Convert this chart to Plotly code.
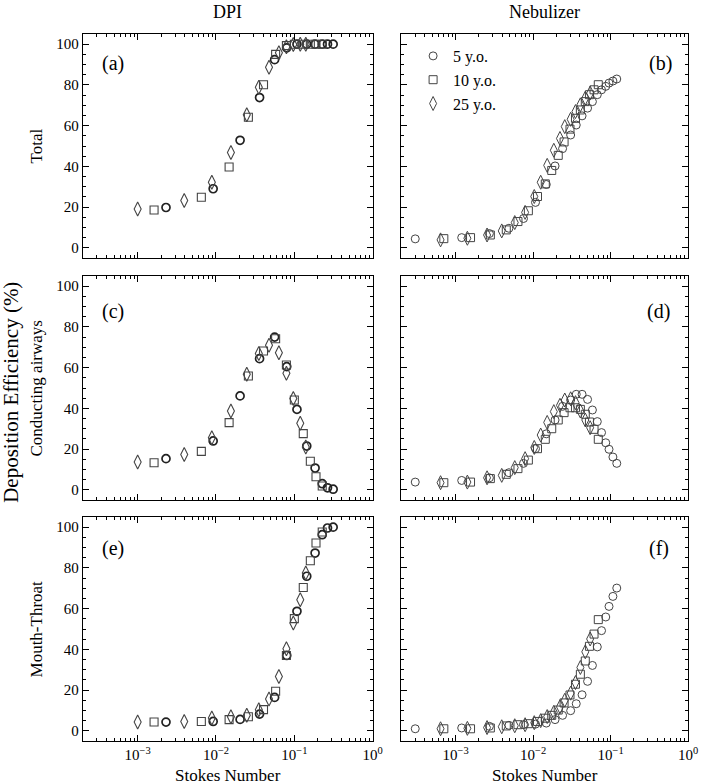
import plotly.graph_objects as go
from plotly.subplots import make_subplots

# ---------------- DATA ----------------
ages = ["5 y.o.", "10 y.o.", "25 y.o."]
col_titles = ["DPI", "Nebulizer"]
row_titles = ["Total", "Conducting airways", "Mouth-Throat"]
panel_labels = ["(a)", "(b)", "(c)", "(d)", "(e)", "(f)"]
x_tick_vals = [1e-3, 1e-2, 1e-1, 1e0]
x_tick_text = ["10<sup>\u22123</sup>", "10<sup>\u22122</sup>", "10<sup>\u22121</sup>", "10<sup>0</sup>"]
y_tick_vals = [0, 20, 40, 60, 80, 100]

# DPI
dpi_st_5 = [2.30e-3, 9.2e-3, 0.0203, 0.036, 0.056, 0.080, 0.108, 0.144, 0.184, 0.227, 0.265, 0.313]
dpi_st_10 = [1.62e-3, 6.5e-3, 0.0147, 0.0259, 0.0404, 0.0577, 0.0792, 0.100, 0.130, 0.160, 0.189, 0.227]
dpi_st_25 = [1.0e-3, 3.93e-3, 8.85e-3, 0.0155, 0.0247, 0.0352, 0.0475, 0.0635, 0.0792, 0.097, 0.119, 0.140]

dpi_total_5 = [19.8, 29.0, 52.8, 73.8, 92.4, 98.2, 100, 100, 100, 100, 100, 100]
dpi_total_10 = [18.6, 24.8, 39.7, 64.1, 80.1, 95.0, 99.3, 100, 100, 100, 100, 100]
dpi_total_25 = [19.1, 23.2, 32.2, 46.8, 65.3, 78.9, 88.7, 95.8, 98.8, 99.8, 100, 100]

dpi_ca_5 = [15.3, 24.0, 46.1, 64.4, 75.0, 60.5, 39.5, 21.5, 10.7, 3.0, 1.0, 0.3]
dpi_ca_10 = [13.3, 18.9, 33.0, 55.9, 68.2, 74.2, 61.3, 44.1, 27.6, 14.0, 6.4, 1.9]
dpi_ca_25 = [13.7, 17.4, 25.6, 38.7, 56.7, 67.0, 71.0, 67.3, 57.2, 44.9, 32.7, 21.0]

dpi_mt_5 = [4.3, 4.6, 5.6, 8.2, 16.4, 37.0, 58.7, 75.9, 87.3, 96.3, 99.6, 100]
dpi_mt_10 = [4.3, 4.6, 5.5, 6.9, 10.4, 19.4, 37.0, 55.1, 70.4, 83.5, 92.2, 97.6]
dpi_mt_25 = [4.3, 4.6, 6.3, 6.9, 7.6, 10.4, 15.6, 26.7, 40.3, 52.9, 64.4, 77.5]

# Nebulizer
neb_st_5 = [3.02e-4, 1.20e-3, 2.73e-3, 4.88e-3, 7.52e-3, 0.01074, 0.0148, 0.0192, 0.0240, 0.0305,
            0.0360, 0.0428, 0.0504, 0.0582, 0.0673, 0.0763, 0.0865, 0.0953, 0.107, 0.120]
neb_total_5 = [4.4, 5.0, 7.0, 9.6, 14.4, 22.3, 31.1, 40.2, 48.7, 55.4,
               60.3, 64.8, 68.6, 71.8, 75.2, 77.6, 79.3, 80.9, 81.9, 82.9]
neb_ca_5 = [3.8, 4.6, 5.9, 8.4, 13.0, 20.2, 27.5, 34.3, 41.0, 44.1,
            46.9, 46.9, 44.4, 39.2, 33.5, 28.1, 23.1, 19.9, 16.1, 13.0]
neb_mt_5 = [1.0, 1.4, 2.2, 2.7, 3.0, 3.3, 3.8, 5.5, 7.6, 9.9,
            13.3, 17.7, 24.3, 32.1, 41.2, 49.2, 55.9, 61.1, 66.0, 70.1]

neb_st_10 = [7.06e-4, 1.56e-3, 2.81e-3, 4.51e-3, 6.38e-3, 8.69e-3, 0.0114, 0.01436, 0.0174,
             0.0211, 0.0251, 0.0299, 0.0352, 0.0407, 0.0471, 0.0533, 0.0611, 0.0693]
neb_total_10 = [4.5, 5.0, 6.3, 8.8, 12.9, 18.2, 25.2, 31.4, 38.0,
                45.4, 52.0, 58.3, 63.6, 67.7, 71.8, 75.2, 77.6, 80.1]
neb_ca_10 = [3.5, 3.8, 5.5, 7.6, 10.4, 14.6, 20.2, 24.8, 30.0,
             34.3, 37.9, 40.3, 40.3, 39.5, 37.1, 33.3, 29.7, 24.8]
neb_mt_10 = [1.0, 1.0, 1.4, 2.4, 3.0, 3.5, 4.6, 6.2, 7.6,
             10.2, 13.7, 17.6, 22.9, 27.8, 34.3, 41.5, 47.5, 54.6]

neb_st_25 = [6.41e-4, 1.42e-3, 2.55e-3, 3.94e-3, 5.80e-3, 7.89e-3, 0.01035, 0.01253, 0.0152,
             0.0185, 0.0222, 0.0256, 0.0305, 0.0352, 0.0407, 0.0471, 0.0544]
neb_total_25 = [3.9, 4.7, 6.3, 8.3, 12.4, 17.4, 25.2, 32.2, 40.5,
                47.9, 53.7, 59.5, 63.1, 66.9, 70.2, 73.5, 76.0]
neb_ca_25 = [3.5, 3.8, 5.9, 7.1, 10.9, 15.3, 20.8, 26.9, 33.1,
             38.4, 41.5, 44.1, 44.7, 42.8, 38.7, 34.3, 30.5]
neb_mt_25 = [1.0, 1.2, 1.6, 2.0, 2.5, 3.0, 4.0, 5.0, 7.0,
             9.1, 11.8, 15.0, 18.5, 23.7, 31.1, 38.8, 45.1]

# ---------------- FIGURE ----------------
W, H = 711, 784
FONT = "Liberation Serif, Times New Roman, serif"

fig = make_subplots(rows=3, cols=2)

symbols = ["circle-open", "square-open", "diamond-tall-open"]
sizes = [8, 8, 10]

dpi_sets = [
    [(dpi_st_5, dpi_total_5), (dpi_st_10, dpi_total_10), (dpi_st_25, dpi_total_25)],
    [(dpi_st_5, dpi_ca_5), (dpi_st_10, dpi_ca_10), (dpi_st_25, dpi_ca_25)],
    [(dpi_st_5, dpi_mt_5), (dpi_st_10, dpi_mt_10), (dpi_st_25, dpi_mt_25)],
]
neb_sets = [
    [(neb_st_5, neb_total_5), (neb_st_10, neb_total_10), (neb_st_25, neb_total_25)],
    [(neb_st_5, neb_ca_5), (neb_st_10, neb_ca_10), (neb_st_25, neb_ca_25)],
    [(neb_st_5, neb_mt_5), (neb_st_10, neb_mt_10), (neb_st_25, neb_mt_25)],
]

for r in range(3):
    for k in range(3):
        xs, ys = dpi_sets[r][k]
        lw = 1.7 if k == 0 else 1.1
        lc = "#222222" if k == 0 else "#444444"
        fig.add_trace(go.Scatter(
            x=xs, y=ys, mode="markers", name=ages[k], showlegend=False,
            marker=dict(symbol=symbols[k], size=sizes[k], color=lc,
                        line=dict(width=lw, color=lc))), row=r + 1, col=1)
    for k in range(3):
        xs, ys = neb_sets[r][k]
        fig.add_trace(go.Scatter(
            x=xs, y=ys, mode="markers", name=ages[k], showlegend=(r == 0),
            marker=dict(symbol=symbols[k], size=sizes[k], color="#444444",
                        line=dict(width=1.0, color="#444444"))), row=r + 1, col=2)

col_dom = [[84 / W, 378 / W], [407 / W, 698 / W]]
row_px = [(34, 258), (276, 500), (517, 741)]
row_dom = [[1 - b / H, 1 - t / H] for t, b in row_px]

axis_common = dict(showline=True, linecolor="black", linewidth=1.3, mirror="ticks",
                   ticks="inside", tickcolor="black", ticklen=6, tickwidth=1,
                   showgrid=False, zeroline=False,
                   tickfont=dict(family=FONT, size=15, color="black"))

for r in range(3):
    for c in range(2):
        idx = r * 2 + c + 1
        xa = "xaxis" if idx == 1 else f"xaxis{idx}"
        ya = "yaxis" if idx == 1 else f"yaxis{idx}"
        fig.layout[xa].update(
            type="log", range=[-3.7, 0], domain=col_dom[c],
            tickvals=x_tick_vals, ticktext=x_tick_text,
            showticklabels=(r == 2),
            minor=dict(ticks="inside", ticklen=3, tickcolor="black", dtick="D1", showgrid=False),
            **axis_common)
        fig.layout[ya].update(
            range=[-5, 105], domain=row_dom[r],
            tickvals=y_tick_vals, showticklabels=(c == 0),
            minor=dict(ticks="inside", ticklen=3, tickcolor="black", dtick=5, showgrid=False),
            **axis_common)

annotations = []
# column titles
for c in range(2):
    annotations.append(dict(text=col_titles[c], xref="paper", yref="paper",
                            x=sum(col_dom[c]) / 2, y=1 - 12 / H, xanchor="center", yanchor="middle",
                            showarrow=False, font=dict(family=FONT, size=18, color="black")))
    annotations.append(dict(text="Stokes Number", xref="paper", yref="paper",
                            x=sum(col_dom[c]) / 2, y=1 - 775 / H, xanchor="center", yanchor="middle",
                            showarrow=False, font=dict(family=FONT, size=17, color="black")))
# row titles
for r in range(3):
    annotations.append(dict(text=row_titles[r], xref="paper", yref="paper",
                            x=37 / W, y=sum(row_dom[r]) / 2, xanchor="center", yanchor="middle",
                            textangle=-90, showarrow=False,
                            font=dict(family=FONT, size=17, color="black")))
# global y title
annotations.append(dict(text="Deposition Efficiency (%)", xref="paper", yref="paper",
                        x=11 / W, y=1 - 392 / H, xanchor="center", yanchor="middle", textangle=-90,
                        showarrow=False, font=dict(family=FONT, size=21, color="black")))
# panel labels
label_pos = [(0.105, 0.87), (0.905, 0.87), (0.105, 0.84), (0.898, 0.84), (0.105, 0.86), (0.898, 0.86)]
for i, lab in enumerate(panel_labels):
    idx = i + 1
    xr = "x domain" if idx == 1 else f"x{idx} domain"
    yr = "y domain" if idx == 1 else f"y{idx} domain"
    annotations.append(dict(text=lab, xref=xr, yref=yr, x=label_pos[i][0], y=label_pos[i][1],
                            xanchor="center", yanchor="middle", showarrow=False,
                            font=dict(family=FONT, size=20, color="black")))

fig.update_layout(
    width=W, height=H, margin=dict(l=0, r=0, t=0, b=0),
    paper_bgcolor="white", plot_bgcolor="white",
    font=dict(family=FONT, color="black"),
    annotations=annotations,
    legend=dict(x=419 / W, y=1 - 39 / H, xanchor="left", yanchor="top",
                bgcolor="rgba(0,0,0,0)", font=dict(family=FONT, size=16, color="black"),
                tracegroupgap=0, itemwidth=30),
)

fig.write_html("out.html", config={"displayModeBar": False},
               post_script="document.body.style.margin='0px'; document.body.style.overflow='hidden';")
